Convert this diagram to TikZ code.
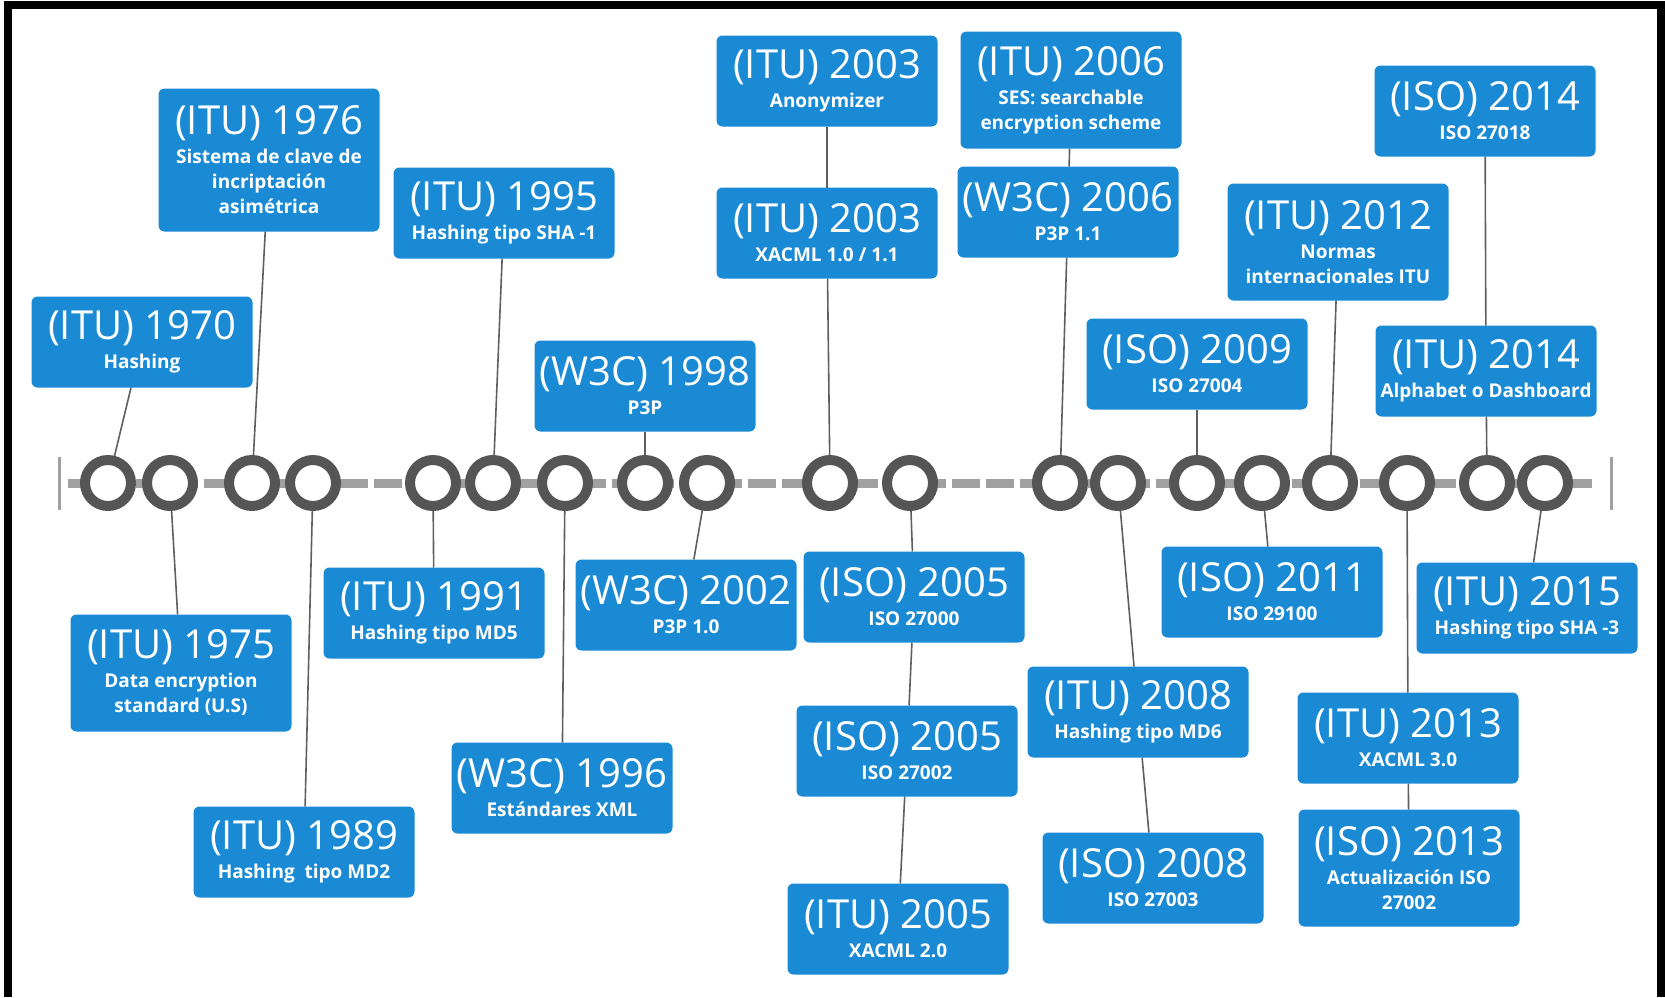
\documentclass[tikz,border=0pt]{standalone}
\usepackage{fontspec}
\setmainfont{Open Sans}
\usetikzlibrary{backgrounds}

\definecolor{cardblue}{RGB}{27,138,212}
\definecolor{ringgray}{RGB}{85,85,85}
\definecolor{axisgray}{RGB}{160,160,160}
\definecolor{linkgray}{RGB}{95,95,95}

\newcommand{\cardhead}[1]{{\fontsize{20pt}{20pt}\mdseries\selectfont #1}}

\begin{document}
\begin{tikzpicture}[
    x=0.5pt, y=-0.5pt,
    card/.style={fill=cardblue, text=white, rounded corners=3pt, align=center,
                 minimum width=110.5pt, minimum height=45.5pt, inner xsep=0pt,
                 outer sep=0pt, font=\fontsize{9.5pt}{12.5pt}\selectfont\bfseries},
    card2/.style={card, minimum height=58.5pt},
    card3/.style={card, minimum height=71.5pt},
    dot/.style={circle, draw=ringgray, line width=5pt, fill=white,
                minimum size=23pt, inner sep=0pt, outer sep=0pt},
    link/.style={draw=linkgray, line width=0.8pt},
    timeline/.style={axisgray, line width=4.5pt, dash pattern=on 14pt off 3pt},
    endmark/.style={axisgray, line width=1.5pt},
]
  \useasboundingbox (0,0) rectangle (1665,997);
  \draw[line width=4pt] (8,997) -- (8,4.5) -- (1661,4.5) -- (1661,997);

  % above the line
  \node[card] (b1970) at (142, 342) {\cardhead{(ITU) 1970}\\[2pt] Hashing};
  \node[card3] (b1976) at (269, 160)
    {\cardhead{(ITU) 1976}\\[2pt] Sistema de clave de\\ incriptación\\ asimétrica};
  \node[card] (b1995) at (504, 213) {\cardhead{(ITU) 1995}\\[2pt] Hashing tipo SHA -1};
  \node[card] (b1998) at (645, 386) {\cardhead{(W3C) 1998}\\[2pt] P3P};
  \node[card] (b2003a) at (827, 81) {\cardhead{(ITU) 2003}\\[2pt] Anonymizer};
  \node[card] (b2003b) at (827, 233) {\cardhead{(ITU) 2003}\\[2pt] XACML 1.0 / 1.1};
  \node[card2] (b2006a) at (1071, 90)
    {\cardhead{(ITU) 2006}\\[2pt] SES: searchable\\ encryption scheme};
  \node[card] (b2006b) at (1068, 212) {\cardhead{(W3C) 2006}\\[2pt] P3P 1.1};
  \node[card] (b2009) at (1197, 364) {\cardhead{(ISO) 2009}\\[2pt] ISO 27004};
  \node[card2] (b2012) at (1338, 242)
    {\cardhead{(ITU) 2012}\\[2pt] Normas\\ internacionales ITU};
  \node[card] (b2014a) at (1485, 111) {\cardhead{(ISO) 2014}\\[2pt] ISO 27018};
  \node[card] (b2014b) at (1486, 371) {\cardhead{(ITU) 2014}\\[2pt] Alphabet o Dashboard};

  % below the line
  \node[card2] (b1975) at (181, 673)
    {\cardhead{(ITU) 1975}\\[2pt] Data encryption\\ standard (U.S)};
  \node[card] (b1989) at (304, 852) {\cardhead{(ITU) 1989}\\[2pt] Hashing\ \ tipo MD2};
  \node[card] (b1991) at (434, 613) {\cardhead{(ITU) 1991}\\[2pt] Hashing tipo MD5};
  \node[card] (b1996) at (562, 788) {\cardhead{(W3C) 1996}\\[2pt] Estándares XML};
  \node[card] (b2002) at (686, 605) {\cardhead{(W3C) 2002}\\[2pt] P3P 1.0};
  \node[card] (b2005a) at (914, 597) {\cardhead{(ISO) 2005}\\[2pt] ISO 27000};
  \node[card] (b2005b) at (907, 751) {\cardhead{(ISO) 2005}\\[2pt] ISO 27002};
  \node[card] (b2005c) at (898, 929) {\cardhead{(ITU) 2005}\\[2pt] XACML 2.0};
  \node[card] (b2008a) at (1138, 712) {\cardhead{(ITU) 2008}\\[2pt] Hashing tipo MD6};
  \node[card] (b2008b) at (1153, 878) {\cardhead{(ISO) 2008}\\[2pt] ISO 27003};
  \node[card] (b2011) at (1272, 592) {\cardhead{(ISO) 2011}\\[2pt] ISO 29100};
  \node[card] (b2013a) at (1408, 738) {\cardhead{(ITU) 2013}\\[2pt] XACML 3.0};
  \node[card2] (b2013b) at (1409, 868)
    {\cardhead{(ISO) 2013}\\[2pt] Actualización ISO\\ 27002};
  \node[card] (b2015) at (1527, 608) {\cardhead{(ITU) 2015}\\[2pt] Hashing tipo SHA -3};

  % timeline
  \foreach \y/\x in {1970/108, 1975/170, 1976/252, 1989/313, 1991/433, 1995/493,
                     1996/565, 1998/645, 2002/707, 2003/830, 2005/910, 2006/1060,
                     2008/1118, 2009/1197, 2011/1262, 2012/1330, 2013/1407,
                     2014/1487, 2015/1545}
    \node[dot] (d\y) at (\x, 483) {};

  \begin{scope}[on background layer]
    \draw[timeline] (68, 483) -- (1595, 483);
    \draw[endmark] (59, 457) -- (59, 510);
    \draw[endmark] (1611, 457) -- (1611, 510);
    \foreach \a/\b in {b1970/d1970, b1976/d1976, b1995/d1995, b1998/d1998,
                       b2003a/b2003b, b2003b/d2003, b2006a/b2006b, b2006b/d2006,
                       b2009/d2009, b2012/d2012, b2014a/b2014b, b2014b/d2014,
                       d1975/b1975, d1989/b1989, d1991/b1991, d1996/b1996,
                       d2002/b2002, d2005/b2005a, b2005a/b2005b, b2005b/b2005c,
                       d2008/b2008a, b2008a/b2008b, d2011/b2011,
                       d2013/b2013a, b2013a/b2013b, d2015/b2015}
      \draw[link] (\a) -- (\b);
  \end{scope}
\end{tikzpicture}
\end{document}
